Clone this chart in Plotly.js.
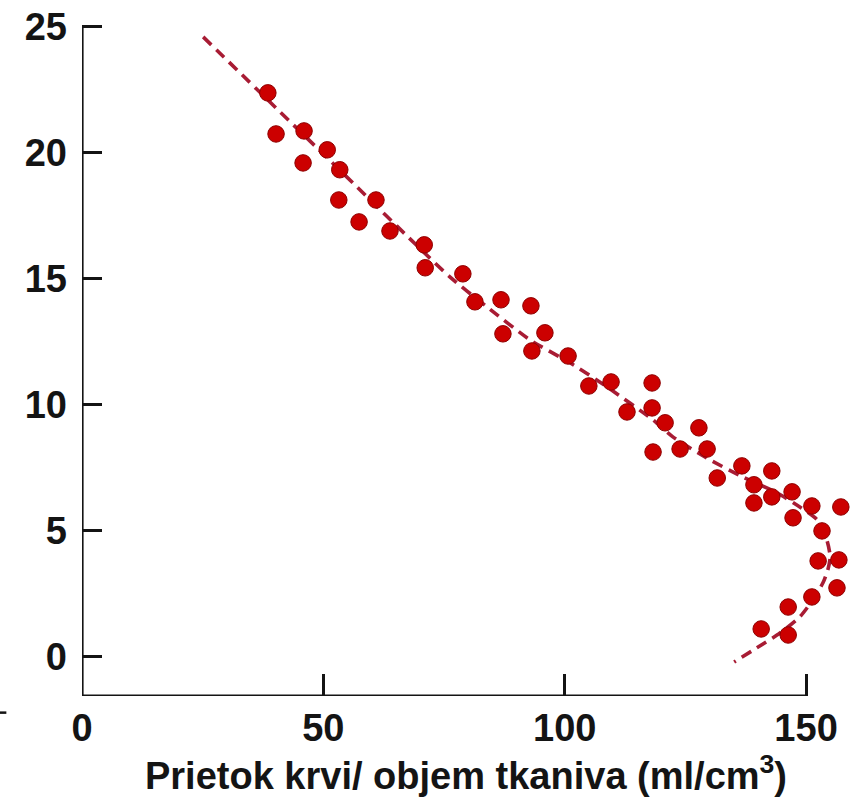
<!DOCTYPE html>
<html>
<head>
<meta charset="utf-8">
<script src="https://cdn.plot.ly/plotly-3.0.1.min.js"></script>
<style>html,body{margin:0;padding:0;background:#fff;}#chart{width:850px;height:801px;}</style>
</head>
<body>
<div id="chart"></div>
<script>
// Measured points: blood flow / tissue volume (x) vs. y value
const flowX = [38.5, 40.2, 46.0, 45.8, 50.8, 53.4, 53.2, 60.9, 57.4, 63.8,
               70.9, 71.1, 78.9, 81.4, 86.8, 93.0, 87.2, 95.9, 93.2, 100.7,
               105.0, 109.6, 118.1, 118.1, 112.9, 120.8, 127.8, 118.3, 123.9, 129.5,
               131.6, 136.7, 142.9, 139.2, 139.2, 142.9, 147.1, 151.2, 157.2, 147.3,
               153.3, 152.5, 156.8, 156.4, 151.2, 146.3, 140.7, 146.3];
const depthY = [22.38, 20.75, 20.87, 19.60, 20.12, 19.33, 18.13, 18.13, 17.26, 16.90,
                16.35, 15.44, 15.20, 14.09, 14.17, 13.93, 12.82, 12.86, 12.14, 11.94,
                10.75, 10.91, 10.87, 9.88, 9.72, 9.29, 9.09, 8.13, 8.25, 8.25,
                7.10, 7.58, 7.38, 6.83, 6.11, 6.35, 6.55, 5.99, 5.95, 5.52,
                5.00, 3.81, 3.85, 2.74, 2.38, 1.98, 1.11, 0.87];
// Fitted trend (dashed curve)
const fitX = [25.1, 50.6, 76.2, 83.9, 92.8, 101.1, 108.8, 118.3, 122.4, 130.1,
              136.9, 144.0, 148.7, 152.3, 154.3, 155.0, 154.5, 153.5, 151.4, 148.7,
              144.6, 139.8, 135.1];
const fitY = [24.60, 19.84, 15.08, 13.89, 12.58, 11.67, 10.71, 9.40, 8.73, 7.82,
              7.14, 6.51, 5.95, 5.44, 4.64, 3.97, 3.45, 2.94, 2.26, 1.59,
              0.95, 0.36, -0.20];
const xTicks = [0, 50, 100, 150];
const yTicks = [0, 5, 10, 15, 20, 25];
const xTitle = 'Prietok krvi/ objem tkaniva (ml/cm<sup>3</sup>)';

const FONT = 'Liberation Sans, Arial, Helvetica, sans-serif';
const AX = '#141414';

const traces = [
  {
    x: fitX, y: fitY, type: 'scatter', mode: 'lines',
    line: {color: '#a81c34', width: 3.6, dash: '11px,7px', shape: 'spline', smoothing: 0.6},
    hoverinfo: 'skip', cliponaxis: false
  },
  {
    x: flowX, y: depthY, type: 'scatter', mode: 'markers',
    marker: {color: '#cc0000', size: 16.5, line: {color: '#8e0000', width: 1}},
    cliponaxis: false
  }
];

const yBottom = -1.55;
const layout = {
  width: 850, height: 801,
  margin: {l: 82, r: 0, t: 17, b: 105, pad: 0},
  paper_bgcolor: '#ffffff', plot_bgcolor: '#ffffff',
  showlegend: false,
  font: {family: FONT, color: AX},
  xaxis: {
    range: [0, 159.1], tickvals: xTicks, ticktext: xTicks.map(String),
    ticks: 'inside', ticklen: 22, tickwidth: 3, tickcolor: AX,
    showgrid: false, zeroline: false, showline: false,
    tickfont: {family: FONT, size: 38, weight: 700, color: AX},
    ticklabelstandoff: 6,
    title: {text: xTitle, font: {family: FONT, size: 38, weight: 700, color: AX}, standoff: 4}
  },
  yaxis: {
    range: [yBottom, 25.39], tickvals: yTicks, ticktext: yTicks.map(String),
    ticks: 'inside', ticklen: 20, tickwidth: 3, tickcolor: AX,
    showgrid: false, zeroline: false, showline: false,
    tickfont: {family: FONT, size: 38, weight: 700, color: AX},
    ticklabelstandoff: 14
  },
  shapes: [
    {type: 'line', xref: 'x', yref: 'y', x0: 0, x1: 0, y0: yBottom, y1: 25,
     line: {color: AX, width: 3.2}},
    {type: 'line', xref: 'x', yref: 'y', x0: 0, x1: 150, y0: yBottom, y1: yBottom,
     line: {color: AX, width: 3.2}},
    {type: 'line', xref: 'paper', yref: 'paper', x0: -0.1077, x1: -0.0985, y0: -0.0245, y1: -0.0245,
     line: {color: AX, width: 2.5}}
  ]
};

Plotly.newPlot('chart', traces, layout, {displayModeBar: false, staticPlot: true});
</script>
</body>
</html>
